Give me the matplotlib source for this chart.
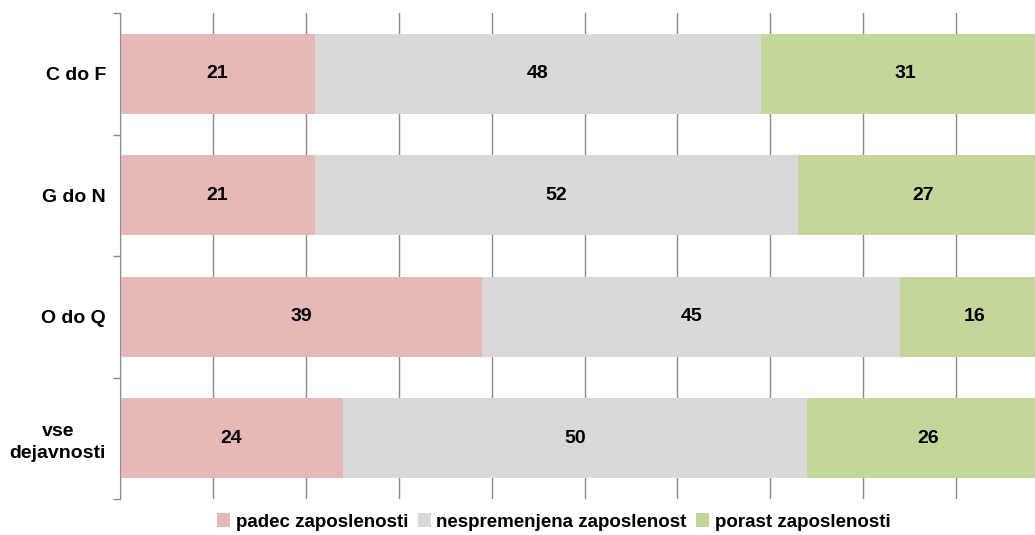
import matplotlib
matplotlib.use("Agg")
import matplotlib.pyplot as plt
import numpy as np

categories = ["C do F", "G do N", "O do Q", "vse\ndejavnosti"]
padec = [21, 21, 39, 24]
nespremenjena = [48, 52, 45, 50]
porast = [31, 27, 16, 26]
series_names = ["padec zaposlenosti", "nespremenjena zaposlenost", "porast zaposlenosti"]
colors = ["#E6B9B8", "#D9D9D9", "#C4D79B"]

plt.rcParams['font.family'] = ['Liberation Sans', 'DejaVu Sans']
plt.rcParams['font.weight'] = 'bold'

fig = plt.figure(figsize=(10.35, 5.35), dpi=100)
W, H = 1035, 535
x0, x1, y0, y1 = 120, 1049, 13, 499
ax = fig.add_axes([x0 / W, 1 - y1 / H, (x1 - x0) / W, (y1 - y0) / H])

ypos = np.arange(len(categories))
left = np.zeros(len(categories))
for vals, name, c in zip([padec, nespremenjena, porast], series_names, colors):
    ax.barh(ypos, vals, left=left, height=0.66, color=c, label=name, zorder=2)
    for yi, (l, v) in enumerate(zip(left, vals)):
        ax.text(l + v / 2, yi, str(v), ha='center', va='center', fontsize=14, fontweight='bold', zorder=3)
    left = left + np.array(vals)

ax.set_xlim(0, 100)
ax.set_ylim(len(categories) - 0.5, -0.5)
ax.set_xticks(np.arange(0, 101, 10))
ax.set_xticklabels([])
ax.tick_params(axis='x', length=0)
ax.grid(axis='x', color='#8C8C8C', linewidth=1, zorder=1)
ax.set_yticks(ypos)
ax.set_yticklabels(categories, fontsize=14, fontweight='bold', linespacing=1.35,
                   multialignment='center')
ax.tick_params(axis='y', length=0, pad=10)
ax.set_yticks(np.arange(-0.5, len(categories), 1), minor=True)
ax.tick_params(axis='y', which='minor', length=5, color='#8C8C8C', width=1)
for s in ['top', 'right', 'bottom']:
    ax.spines[s].set_visible(False)
ax.spines['left'].set_color('#8C8C8C')

fig.legend(loc='center', bbox_to_anchor=(0.535, 1 - 522 / H), ncol=3, frameon=False,
           handlelength=0.7, handleheight=0.7, handletextpad=0.3,
           columnspacing=0.5, prop={'weight': 'bold', 'size': 13.5})

fig.savefig("out.png", dpi=100)
